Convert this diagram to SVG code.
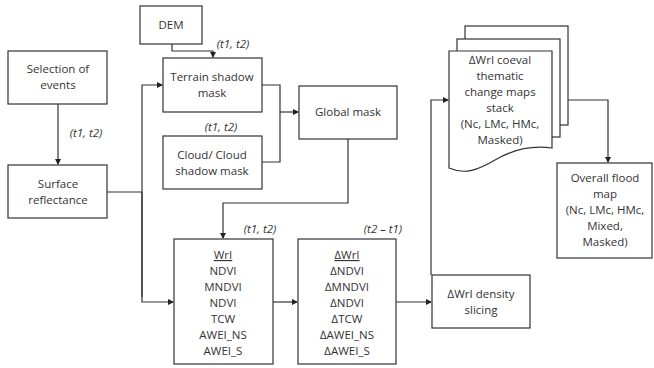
<svg xmlns="http://www.w3.org/2000/svg" width="654" height="368" viewBox="0 0 654 368">
<style>
.box{fill:#fff;stroke:#333;stroke-width:1.2}
.t{font-family:"Open Sans","Liberation Sans",sans-serif;font-size:11.5px;fill:#333;text-anchor:middle}
.lbl{font-family:"Open Sans","Liberation Sans",sans-serif;font-size:11.5px;fill:#333;font-style:italic;text-anchor:middle}
.c{fill:none;stroke:#333;stroke-width:1.2}
</style>
<defs>
<marker id="ah" markerWidth="6" markerHeight="6" refX="5" refY="3" orient="auto" markerUnits="userSpaceOnUse">
<path d="M0,0 L6,3 L0,6 Z" fill="#222"/>
</marker>
</defs>
<rect width="654" height="368" fill="#fff"/>
<g id="connectors">
<path class="c" d="M172,44 V51 H213 V57" marker-end="url(#ah)"/>
<path class="c" d="M58,104 V164" marker-end="url(#ah)"/>
<path class="c" d="M107,192 H142"/>
<path class="c" d="M142,297 V85 H162" marker-end="url(#ah)"/>
<path class="c" d="M142,192 V302 H173" marker-end="url(#ah)"/>
<path class="c" d="M262,85 H280 V162 H262"/>
<path class="c" d="M280,112 H298" marker-end="url(#ah)"/>
<path class="c" d="M348,139 V203 H223 V238" marker-end="url(#ah)"/>
<path class="c" d="M273,302 H297" marker-end="url(#ah)"/>
<path class="c" d="M396,302 H431" marker-end="url(#ah)"/>
<path class="c" d="M431,275 V100 H448" marker-end="url(#ah)"/>
<path class="c" d="M568,100 H608 V162" marker-end="url(#ah)"/>
</g>
<g id="dem"><rect class="box" x="140" y="6" width="62" height="38"/><text class="t" x="171" y="29">DEM</text></g>
<g id="selection"><rect class="box" x="8" y="51" width="99" height="53"/><text class="t" x="58" y="73">Selection of</text><text class="t" x="58" y="89">events</text></g>
<g id="terrain"><rect class="box" x="163" y="58" width="99" height="54"/><text class="t" x="212" y="81">Terrain shadow</text><text class="t" x="212" y="97">mask</text></g>
<g id="cloud"><rect class="box" x="163" y="136" width="99" height="53"/><text class="t" x="212" y="159">Cloud/ Cloud</text><text class="t" x="212" y="175">shadow mask</text></g>
<g id="global"><rect class="box" x="299" y="86" width="98" height="53"/><text class="t" x="348" y="116">Global mask</text></g>
<g id="surface"><rect class="box" x="8" y="165" width="99" height="53"/><text class="t" x="58" y="188">Surface</text><text class="t" x="58" y="204">reflectance</text></g>
<g id="wri">
<rect class="box" x="174" y="239" width="99" height="125"/>
<text class="t" x="223" y="259" text-decoration="underline">WrI</text>
<text class="t" x="223" y="275">NDVI</text>
<text class="t" x="223" y="291">MNDVI</text>
<text class="t" x="223" y="307">NDVI</text>
<text class="t" x="223" y="323">TCW</text>
<text class="t" x="223" y="339">AWEI_NS</text>
<text class="t" x="223" y="355">AWEI_S</text>
</g>
<g id="dwri">
<rect class="box" x="298" y="239" width="98" height="125"/>
<text class="t" x="347" y="259" text-decoration="underline">∆WrI</text>
<text class="t" x="347" y="275">∆NDVI</text>
<text class="t" x="347" y="291">∆MNDVI</text>
<text class="t" x="347" y="307">∆NDVI</text>
<text class="t" x="347" y="323">∆TCW</text>
<text class="t" x="347" y="339">∆AWEI_NS</text>
<text class="t" x="347" y="355">∆AWEI_S</text>
</g>
<g id="density"><rect class="box" x="432" y="275" width="98" height="53"/><text class="t" x="481" y="298">∆WrI density</text><text class="t" x="481" y="314">slicing</text></g>
<g id="stack">
<rect class="box" x="465" y="26" width="103" height="99"/>
<rect class="box" x="457" y="39" width="103" height="98"/>
<path class="box" d="M449,51 H552 V148 C530,145 512,150 495,160 C478,170 465,175 449,168 Z"/>
<text class="t" x="500" y="64">∆WrI coeval</text>
<text class="t" x="500" y="80">thematic</text>
<text class="t" x="500" y="96">change maps</text>
<text class="t" x="500" y="112">stack</text>
<text class="t" x="500" y="128">(Nc, LMc, HMc,</text>
<text class="t" x="500" y="144">Masked)</text>
</g>
<g id="overall">
<rect class="box" x="557" y="163" width="95" height="95"/>
<text class="t" x="605" y="182">Overall flood</text>
<text class="t" x="605" y="198">map</text>
<text class="t" x="605" y="214">(Nc, LMc, HMc,</text>
<text class="t" x="605" y="230">Mixed,</text>
<text class="t" x="605" y="246">Masked)</text>
</g>
<g id="labels">
<text class="lbl" x="233" y="48">(t1, t2)</text>
<text class="lbl" x="86" y="137">(t1, t2)</text>
<text class="lbl" x="221" y="131">(t1, t2)</text>
<text class="lbl" x="260" y="233">(t1, t2)</text>
<text class="lbl" x="383" y="233">(t2 – t1)</text>
</g>
</svg>
